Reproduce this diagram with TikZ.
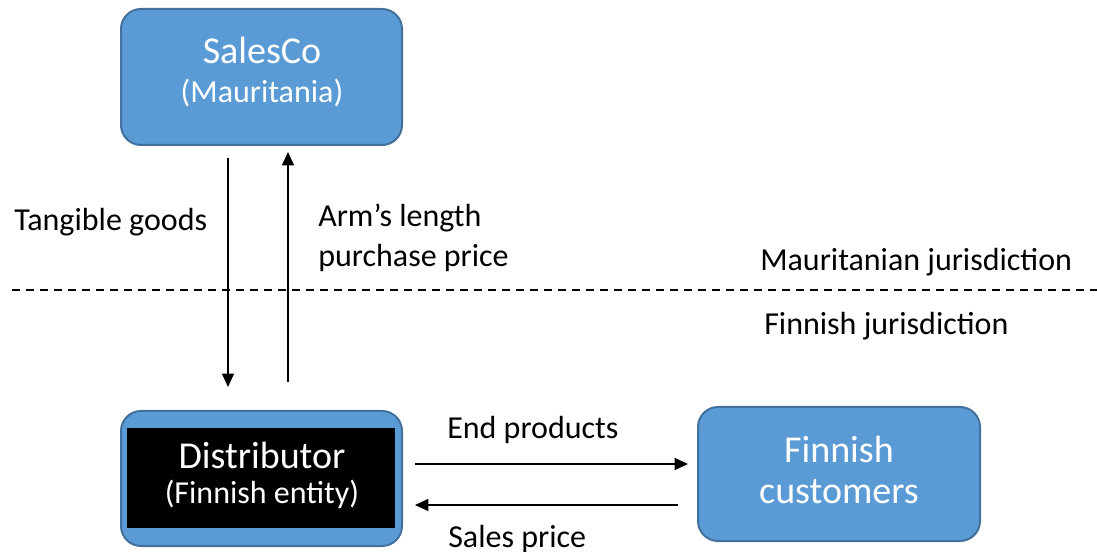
\documentclass[tikz,border=0pt]{standalone}
\usepackage{fontspec}
\setmainfont{Carlito}
\usetikzlibrary{arrows.meta}
\definecolor{boxfill}{HTML}{5B9BD5}
\definecolor{boxline}{HTML}{41719C}
\begin{document}
\begin{tikzpicture}[x=0.75pt,y=-0.75pt,
  entity/.style={draw=boxline,line width=1.5pt,fill=boxfill,rounded corners=15pt},
  flow/.style={line width=0.8pt,-{Triangle[width=9pt,length=10pt]}},
  lbl/.style={font=\fontsize{24}{28}\selectfont,inner sep=0pt},
  big/.style={font=\fontsize{28.5}{32}\selectfont,text=white,inner sep=0pt},
  small/.style={font=\fontsize{24}{28}\selectfont,text=white,inner sep=0pt}]
\useasboundingbox (0,0) rectangle (1097,552);
% entity boxes
\draw[entity] (121,9) rectangle (402,145);
\draw[entity] (121,411) rectangle (402,546);
\fill[black] (127,428) rectangle (395,528);
\draw[entity] (698,407) rectangle (980,541);
% box texts
\node[big] (sc) at (262,50) {SalesCo};
\node[small] (scm) at (262,93) {(Mauritania)};
\node[big] (dist) at (262,455) {Distributor};
\node[small] (diste) at (262,494) {(Finnish entity)};
\node[big] (fc1) at (839,449) {Finnish};
\node[big] (fc2) at (839,492) {customers};
% arrow end points
\coordinate (a1s) at (228,158); \coordinate (a1e) at (228,387);
\coordinate (a2s) at (288,382); \coordinate (a2e) at (288,152);
\coordinate (a3s) at (415,464); \coordinate (a3e) at (688,464);
\coordinate (a4s) at (678,505); \coordinate (a4e) at (415,505);
\draw[flow] (a1s) -- (a1e);
\draw[flow] (a2s) -- (a2e);
\draw[flow] (a3s) -- (a3e);
\draw[flow] (a4s) -- (a4e);
% jurisdiction border
\coordinate (bl) at (12,290); \coordinate (br) at (1097,290);
\draw[line width=0.8pt,dash pattern=on 6pt off 4.5pt] (bl) -- (br);
% labels
\node[lbl,anchor=west] (tg) at (14,222) {Tangible goods};
\node[lbl,anchor=west] (al1) at (318,218) {Arm’s length};
\node[lbl,anchor=west] (al2) at (318,258) {purchase price};
\node[lbl,anchor=west] (mj) at (760,262) {Mauritanian jurisdiction};
\node[lbl,anchor=west] (fj) at (764,326) {Finnish jurisdiction};
\node[lbl,anchor=west] (ep) at (447,430) {End products};
\node[lbl,anchor=west] (sp) at (448,539) {Sales price};
\end{tikzpicture}
\end{document}
